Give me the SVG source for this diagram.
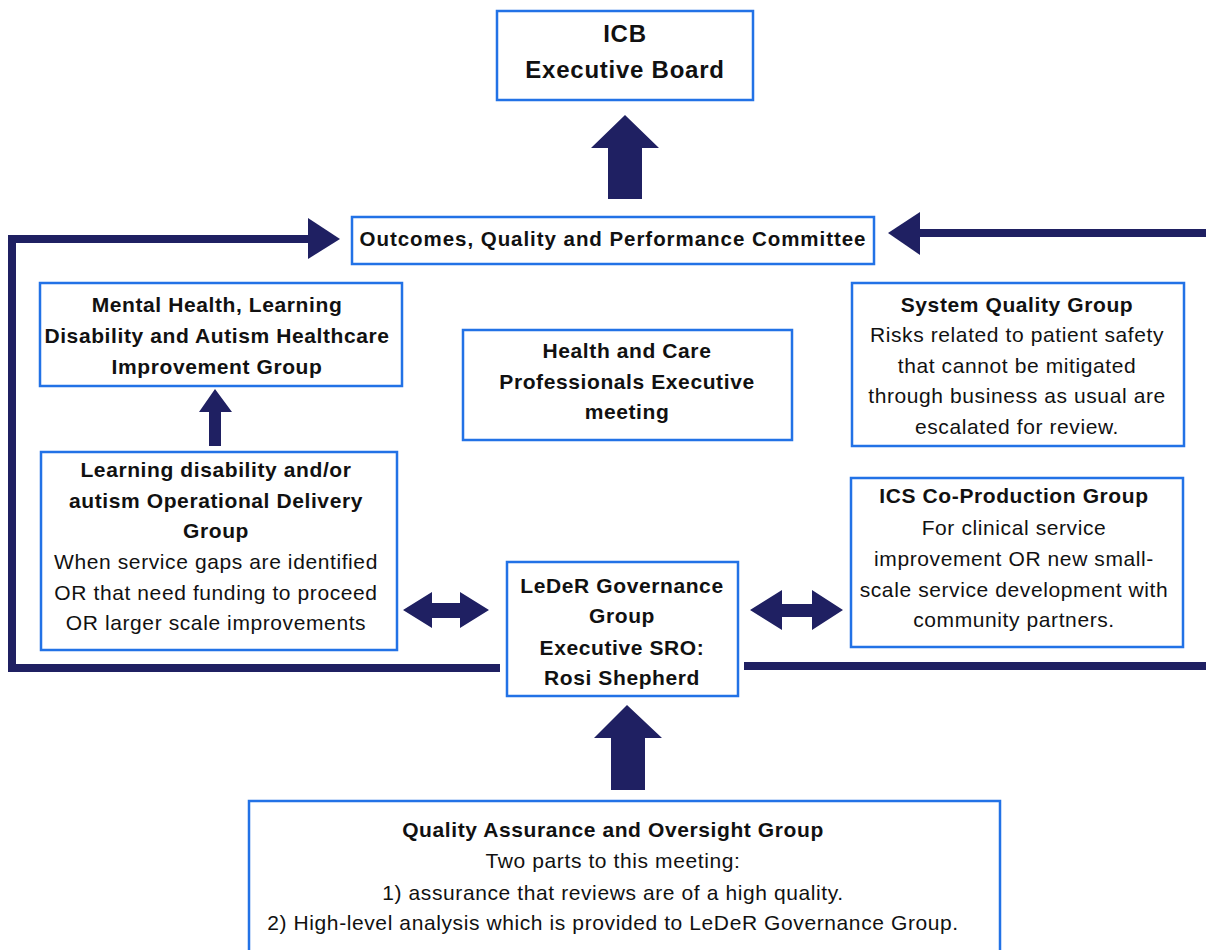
<svg xmlns="http://www.w3.org/2000/svg" width="1206" height="950" viewBox="0 0 1206 950">
<style>
.box{fill:#ffffff;stroke:#2272e6;stroke-width:2.5}
.t{font-family:"Liberation Sans",Arial,sans-serif;font-size:21px;letter-spacing:0.6px;fill:#111111;text-anchor:middle}
.b{font-weight:bold}
.big{font-size:24px;letter-spacing:0.75px}
.mid{font-size:20.5px;letter-spacing:0.95px}
.arr{fill:#1f2062}
.line{fill:none;stroke:#1f2062;stroke-width:8;stroke-linejoin:miter}
</style>
<rect width="1206" height="950" fill="#ffffff"/>
<g id="connectors">
<path class="line" d="M500,668 H12 V239 H312"/>
<polygon class="arr" points="308,218 340,239 308,259"/>
<path class="line" d="M744,666 H1214 V233 H918"/>
<polygon class="arr" points="920,212 888,233 920,255"/>
<polygon class="arr" points="625,115 659,148 642,148 642,199 608,199 608,148 591,148"/>
<polygon class="arr" points="215,389 232,412 221,412 221,446 209,446 209,412 199,412"/>
<polygon class="arr" points="403,610 432,592 432,603 460,603 460,592 489,610 460,628 460,618 432,618 432,628"/>
<polygon class="arr" points="750,610 782,590 782,604 812,604 812,590 843,610 812,630 812,617 782,617 782,630"/>
<polygon class="arr" points="627,705 662,738 645,738 645,790 611,790 611,738 594,738"/>
</g>
<g id="icb">
<rect class="box" x="497" y="11" width="256" height="89"/>
<text class="t b big" x="625" y="42">ICB</text>
<text class="t b big" x="625" y="78">Executive Board</text>
</g>
<g id="oqpc">
<rect class="box" x="352" y="217" width="522" height="47"/>
<text class="t b mid" x="613" y="246">Outcomes, Quality and Performance Committee</text>
</g>
<g id="mhld">
<rect class="box" x="40" y="283" width="362" height="103"/>
<text class="t b" x="217" y="312">Mental Health, Learning</text>
<text class="t b" x="217" y="343">Disability and Autism Healthcare</text>
<text class="t b" x="217" y="374">Improvement Group</text>
</g>
<g id="hcpe">
<rect class="box" x="463" y="330" width="329" height="110"/>
<text class="t b" x="627" y="358">Health and Care</text>
<text class="t b" x="627" y="389">Professionals Executive</text>
<text class="t b" x="627" y="419">meeting</text>
</g>
<g id="sqg">
<rect class="box" x="852" y="283" width="332" height="163"/>
<text class="t b" x="1017" y="312">System Quality Group</text>
<text class="t" x="1017" y="342">Risks related to patient safety</text>
<text class="t" x="1017" y="373">that cannot be mitigated</text>
<text class="t" x="1017" y="403">through business as usual are</text>
<text class="t" x="1017" y="434">escalated for review.</text>
</g>
<g id="ldodg">
<rect class="box" x="41" y="452" width="356" height="198"/>
<text class="t b" x="216" y="477">Learning disability and/or</text>
<text class="t b" x="216" y="508">autism Operational Delivery</text>
<text class="t b" x="216" y="538">Group</text>
<text class="t" x="216" y="569">When service gaps are identified</text>
<text class="t" x="216" y="600">OR that need funding to proceed</text>
<text class="t" x="216" y="630">OR larger scale improvements</text>
</g>
<g id="ics">
<rect class="box" x="851" y="478" width="332" height="169"/>
<text class="t b" x="1014" y="503">ICS Co-Production Group</text>
<text class="t" x="1014" y="535">For clinical service</text>
<text class="t" x="1014" y="566">improvement OR new small-</text>
<text class="t" x="1014" y="597">scale service development with</text>
<text class="t" x="1014" y="627">community partners.</text>
</g>
<g id="leder">
<rect class="box" x="507" y="562" width="231" height="134"/>
<text class="t b" x="622" y="593">LeDeR Governance</text>
<text class="t b" x="622" y="623">Group</text>
<text class="t b" x="622" y="655">Executive SRO:</text>
<text class="t b" x="622" y="685">Rosi Shepherd</text>
</g>
<g id="qaog">
<rect class="box" x="249" y="801" width="751" height="160"/>
<text class="t b" x="613" y="837">Quality Assurance and Oversight Group</text>
<text class="t" x="613" y="868">Two parts to this meeting:</text>
<text class="t" x="613" y="900">1) assurance that reviews are of a high quality.</text>
<text class="t" x="613" y="930">2) High-level analysis which is provided to LeDeR Governance Group.</text>
</g>
</svg>
